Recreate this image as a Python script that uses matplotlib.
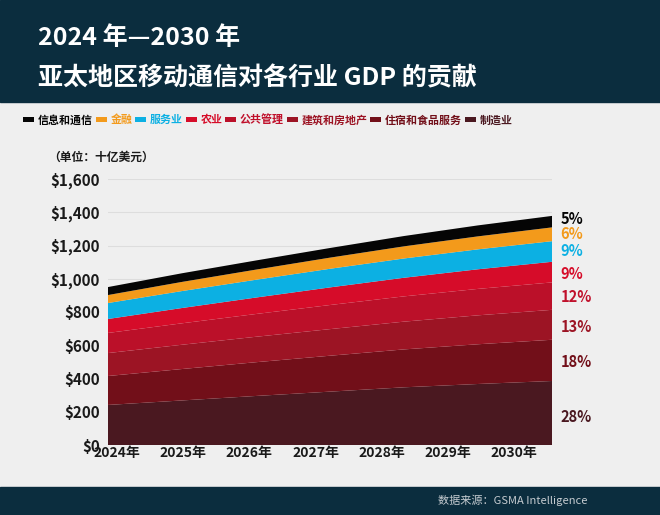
import matplotlib
matplotlib.use("Agg")
import matplotlib.pyplot as plt
import numpy as np
from matplotlib.patches import Rectangle

plt.rcParams['font.family'] = ['Noto Sans CJK SC', 'DejaVu Sans']

# data (十亿美元)
years = [2024, 2025, 2026, 2027, 2028, 2029, 2030]
year_labels = ["2024年", "2025年", "2026年", "2027年", "2028年", "2029年", "2030年"]

manufacturing = [241, 268, 295, 321, 347, 367, 385]   # 制造业
accommodation = [174, 189, 203, 216, 228, 239, 248]   # 住宿和食品服务
construction = [138, 146, 153, 160, 167, 174, 180]    # 建筑和房地产
public_admin = [121, 129, 137, 145, 152, 159, 165]    # 公共管理
agriculture = [84, 92, 99, 106, 112, 118, 124]        # 农业
services = [96, 102, 107, 112, 116, 120, 124]         # 服务业
finance = [48, 55, 61, 67, 73, 78, 83]                # 金融
ict = [48, 52, 55, 58, 62, 66, 69]                    # 信息和通信

sectors = ["制造业", "住宿和食品服务", "建筑和房地产", "公共管理",
           "农业", "服务业", "金融", "信息和通信"]
series = [manufacturing, accommodation, construction, public_admin,
          agriculture, services, finance, ict]
colors = ["#4a1820", "#720f19", "#9c1424", "#bb1029",
          "#d60c29", "#0cb0e3", "#f39a1b", "#050505"]
text_colors = ["#4a1820", "#720f19", "#9c1424", "#c0102b",
               "#d60c29", "#0cb0e3", "#f39a1b", "#050505"]
# where the share labels sit (y, in $bn), as in the original
label_y = [168, 499, 710, 890, 1029, 1167, 1269, 1359]

W, H = 660, 515
navy = "#0b2d3e"

fig = plt.figure(figsize=(6.6, 5.15), dpi=100)
fig.patch.set_facecolor("#efefef")

# header and footer bands
fig.add_artist(Rectangle((0, 1 - 102 / H), 1, 102 / H, transform=fig.transFigure,
                         color=navy, zorder=0))
fig.add_artist(Rectangle((0, 0), 1, 28 / H, transform=fig.transFigure,
                         color=navy, zorder=0))

fig.text(38 / W, 1 - 45 / H, "2024 年—2030 年", color="white",
         fontsize=18, fontweight="bold", va="baseline")
fig.text(38 / W, 1 - 85 / H, "亚太地区移动通信对各行业 GDP 的贡献", color="white",
         fontsize=18, fontweight="bold", va="baseline")
fig.text(587 / W, 1 - 500 / H, "数据来源：GSMA Intelligence", color="#c5cbd0",
         fontsize=8, ha="right", va="center")
fig.text(48 / W, 1 - 157 / H, "（单位：十亿美元）", color="#1a1a1a",
         fontsize=8.5, fontweight="bold", va="center")

ax = fig.add_axes([108 / W, 70 / H, 444 / W, 266 / H])
ax.set_facecolor("none")
polys = ax.stackplot(years, series, colors=colors, linewidth=0)

ax.set_xlim(2024, 2030)
ax.set_ylim(0, 1600)
yt = list(range(0, 1601, 200))
ax.set_yticks(yt)
ax.set_yticklabels([f"${v:,}" for v in yt])
ax.yaxis.grid(True, color="#dddddd", lw=0.8)
ax.set_axisbelow(True)
for s in ax.spines.values():
    s.set_visible(False)

# year labels sit a bit left of the data points in the original
ax.set_xticks(np.linspace(2024.12, 2029.49, len(years)))
ax.set_xticklabels(year_labels)
ax.tick_params(axis="both", length=0, colors="#1a1a1a")
ax.tick_params(axis="y", pad=6, labelsize=11)
ax.tick_params(axis="x", pad=1, labelsize=10)
for lab in ax.get_xticklabels() + ax.get_yticklabels():
    lab.set_fontweight("bold")

# share labels at the right end
total_2030 = sum(s[-1] for s in series)
for s, c, y in zip(series, text_colors, label_y):
    ax.annotate(f"{round(100 * s[-1] / total_2030)}%", xy=(2030, y),
                xytext=(6, 0), textcoords="offset points",
                va="center", ha="left", fontsize=10.5, fontweight="bold",
                color=c, annotation_clip=False)

# legend, top layer first
leg = fig.legend(polys[::-1], sectors[::-1], ncol=8, frameon=False,
                 loc="center left", bbox_to_anchor=(23 / W, 1 - 120 / H),
                 prop={"size": 7.9, "weight": "bold"},
                 handlelength=1.0, handleheight=0.4, handletextpad=0.35,
                 columnspacing=0.25, borderpad=0, borderaxespad=0)
for t, c in zip(leg.get_texts(), text_colors[::-1]):
    t.set_color(c)

fig.savefig("out.png", dpi=100, facecolor=fig.get_facecolor())
